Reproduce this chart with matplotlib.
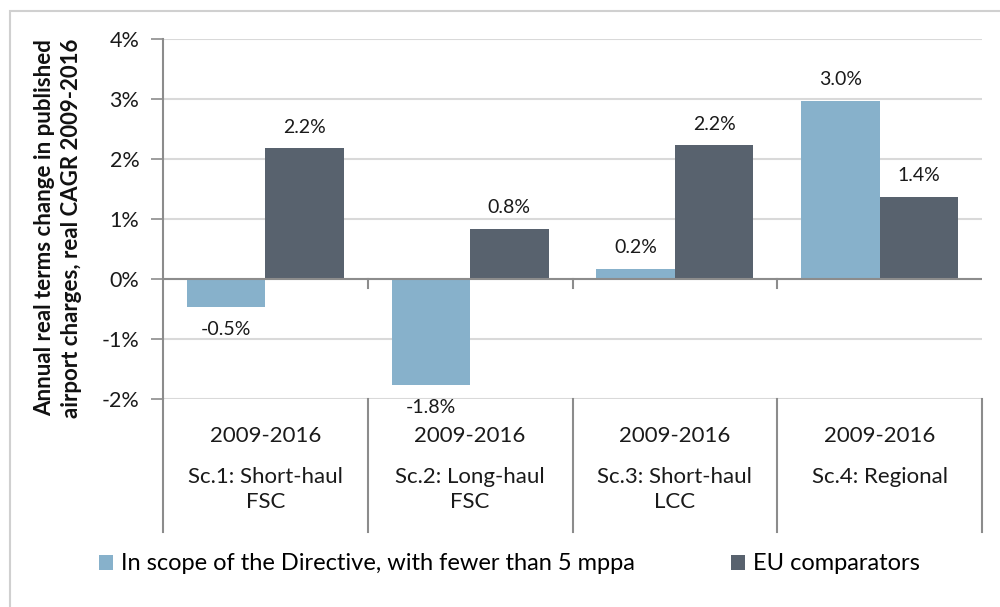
"""
Annual real terms change in published airport charges, by scenario.
"""

import numpy as np
import matplotlib
matplotlib.use("Agg")
import matplotlib.pyplot as plt
from matplotlib.patches import Rectangle
from matplotlib.transforms import blended_transform_factory

plt.rcParams['font.family'] = ['Lato', 'DejaVu Sans']

# data
periods = ["2009-2016", "2009-2016", "2009-2016", "2009-2016"]
scenarios = ["Sc.1: Short-haul\nFSC", "Sc.2: Long-haul\nFSC",
             "Sc.3: Short-haul\nLCC", "Sc.4: Regional"]
in_scope = [-0.46, -1.76, 0.17, 2.97]
eu_comparators = [2.18, 0.84, 2.23, 1.37]
series_names = ["In scope of the Directive, with fewer than 5 mppa",
                "EU comparators"]
y_ticks = [-2, -1, 0, 1, 2, 3, 4]

light = "#87B1CB"
dark = "#58626E"
axis_grey = "#8C8C8C"
grid_grey = "#D9D9D9"
txt = "#1A1A1A"

W, H = 1000, 607
fig = plt.figure(figsize=(W / 100, H / 100), dpi=100)

# outer chart border (Excel chart area)
fig.patches.append(Rectangle((9.5 / W, -0.02), 1.1, (H - 10.5) / H + 0.02,
                             transform=fig.transFigure, fill=False,
                             edgecolor="#D0D0D0", linewidth=1.5))

left, right, top, bottom = 163, 982, 39, 399
ax = fig.add_axes([left / W, 1 - bottom / H, (right - left) / W,
                   (bottom - top) / H])

x = np.arange(len(scenarios))
width = 0.383
b1 = ax.bar(x - width / 2, in_scope, width, color=light, zorder=3,
            label=series_names[0])
b2 = ax.bar(x + width / 2, eu_comparators, width, color=dark, zorder=3,
            label=series_names[1])

ax.set_xlim(-0.5, len(scenarios) - 0.5)
ax.set_ylim(y_ticks[0], y_ticks[-1])
ax.set_yticks(y_ticks)
ax.set_yticklabels([f"{t}%" for t in y_ticks], fontsize=15.5, color=txt)
ax.set_xticks([])
ax.yaxis.grid(True, color=grid_grey, linewidth=1.5, zorder=0)
ax.tick_params(axis='y', length=9, width=1.2, color=axis_grey, pad=8)

for side in ['top', 'right', 'bottom']:
    ax.spines[side].set_visible(False)
ax.spines['left'].set_color(axis_grey)
ax.spines['left'].set_linewidth(1.5)
ax.axhline(0, color=axis_grey, linewidth=1.5, zorder=4)

# data labels
px = (bottom - top) / (y_ticks[-1] - y_ticks[0])  # pixels per 1%
for bars, vals in ((b1, in_scope), (b2, eu_comparators)):
    for rect, v in zip(bars, vals):
        cx = rect.get_x() + rect.get_width() / 2
        off = 21 if v >= 0 else -23
        ax.text(cx, v + off / px, f"{v:.1f}%", ha='center', va='center',
                fontsize=14, color=txt)

# multi-level category axis below the plot
trans = blended_transform_factory(ax.transData, ax.transAxes)
depth = (532 - bottom) / (bottom - top)
for xb in np.arange(-0.5, len(scenarios), 1.0):
    ax.plot([xb, xb], [0, -depth], transform=trans, color=axis_grey,
            linewidth=1.5, clip_on=False)
for xb in np.arange(0.5, len(scenarios) - 1, 1.0):
    ax.plot([xb, xb], [0, -9 / px], color=axis_grey, linewidth=1.5,
            clip_on=False, zorder=4)

for i, (per, sc) in enumerate(zip(periods, scenarios)):
    ax.text(i, -(436 - bottom) / (bottom - top), per, transform=trans,
            ha='center', va='center', fontsize=16, color=txt)
    ax.text(i, -(467 - bottom) / (bottom - top), sc, transform=trans,
            ha='center', va='top', fontsize=16, color=txt,
            linespacing=1.32)

fig.text(58 / W, 1 - 228 / H,
         "Annual real terms change in published\n"
         "airport charges, real CAGR 2009-2016",
         rotation=90, ha='center', va='center', fontsize=16,
         fontweight='bold', linespacing=1.3, color="#111111")

# legend, one entry per anchor to match the reference spacing
for handle, xpos in ((b1, 99), (b2, 731)):
    fig.legend(handles=[handle], loc='center left',
               bbox_to_anchor=(xpos / W, 1 - 564 / H), frameon=False,
               fontsize=17, handlelength=0.6, handleheight=0.6,
               handletextpad=0.35, borderaxespad=0, borderpad=0)

fig.savefig("out.png", dpi=100, facecolor="white")
